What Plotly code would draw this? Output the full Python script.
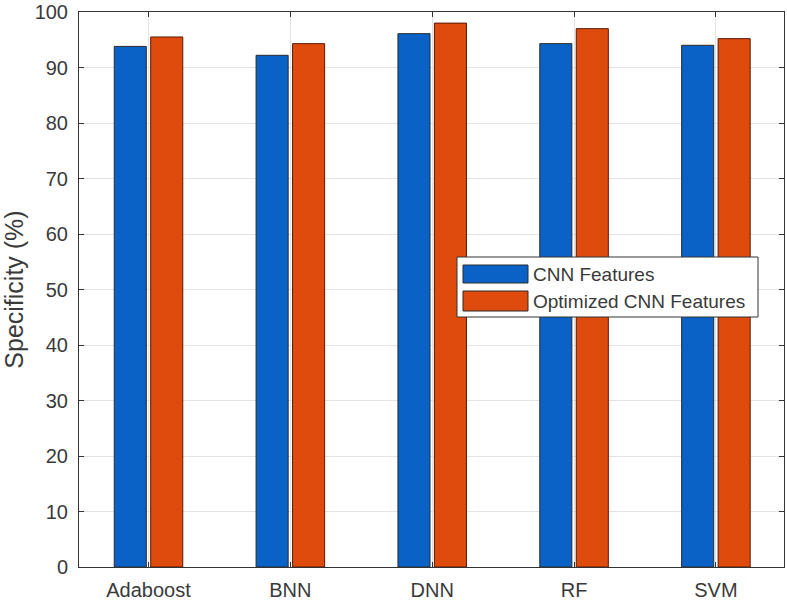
import plotly.graph_objects as go

categories = ["Adaboost", "BNN", "DNN", "RF", "SVM"]
cnn_features = [93.8, 92.2, 96.1, 94.3, 94.0]
optimized_cnn_features = [95.5, 94.3, 98.0, 97.0, 95.2]
series_names = ["CNN Features", "Optimized CNN Features"]
y_ticks = list(range(0, 101, 10))

BLUE = "#0a62c6"
ORANGE = "#df4a0d"
TXT = "#3a3a3a"
FONT = "Liberation Sans, Arial, sans-serif"

fig = go.Figure()
fig.add_trace(go.Bar(
    x=categories, y=cnn_features, name=series_names[0],
    marker=dict(color=BLUE, line=dict(color="#2a2a2a", width=1)),
))
fig.add_trace(go.Bar(
    x=categories, y=optimized_cnn_features, name=series_names[1],
    marker=dict(color=ORANGE, line=dict(color="#5a1a05", width=1)),
))

# plot area (px): x 79..784, y 12..567
def px(x):
    return (x - 79) / 705.0

def py(y):
    return (567 - y) / 555.0

shapes = [
    dict(type="rect", xref="paper", yref="paper", x0=px(457), x1=px(758), y0=py(317), y1=py(257),
         fillcolor="white", line=dict(color="#333333", width=1), layer="above"),
    dict(type="rect", xref="paper", yref="paper", x0=px(463), x1=px(528), y0=py(283), y1=py(265),
         fillcolor=BLUE, line=dict(color="#2a2a2a", width=1), layer="above"),
    dict(type="rect", xref="paper", yref="paper", x0=px(463), x1=px(528), y0=py(311), y1=py(291),
         fillcolor=ORANGE, line=dict(color="#2a2a2a", width=1), layer="above"),
]
annotations = [
    dict(text=series_names[0], xref="paper", yref="paper", x=px(531), y=py(274),
         xanchor="left", yanchor="middle", showarrow=False, font=dict(family=FONT, size=19, color=TXT)),
    dict(text=series_names[1], xref="paper", yref="paper", x=px(531), y=py(301),
         xanchor="left", yanchor="middle", showarrow=False, font=dict(family=FONT, size=19, color=TXT)),
]

axis_font = dict(family=FONT, size=20, color=TXT)

fig.update_layout(
    width=787, height=601,
    margin=dict(l=79, r=3, t=12, b=34, autoexpand=False),
    paper_bgcolor="white", plot_bgcolor="white",
    barmode="group", bargap=0.486, bargroupgap=0.12,
    font=axis_font,
    showlegend=False,
    shapes=shapes,
    annotations=annotations,
    xaxis=dict(
        range=[-0.49, 4.48],
        showgrid=True, gridcolor="#e3e3e3", gridwidth=1,
        showline=True, linecolor="#333333", linewidth=1, mirror="ticks",
        ticks="inside", ticklen=5, tickcolor="#333333",
        tickfont=axis_font, automargin=False, ticklabelstandoff=5,
    ),
    yaxis=dict(
        range=[0, 100], tickvals=y_ticks,
        showgrid=True, gridcolor="#e3e3e3", gridwidth=1,
        showline=True, linecolor="#333333", linewidth=1, mirror="ticks",
        ticks="inside", ticklen=5, tickcolor="#333333",
        tickfont=axis_font, zeroline=False, automargin=False,
        ticklabelstandoff=6, ticklabeloverflow="allow",
        title=dict(text="Specificity (%)", font=dict(family=FONT, size=25, color=TXT), standoff=14),
    ),
)

fig.write_html("out.html", post_script="document.body.style.margin='0';",
               config={"displayModeBar": False})
